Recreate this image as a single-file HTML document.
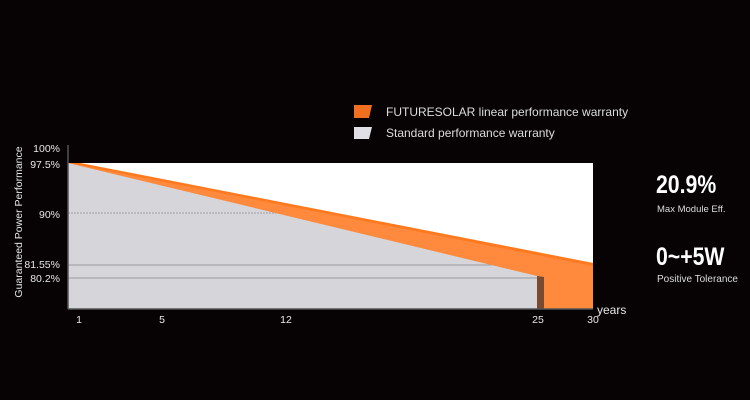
<!DOCTYPE html>
<html><head><style>
body{margin:0;background:#070203;width:750px;height:400px;overflow:hidden;font-family:"Liberation Sans",sans-serif;}
</style></head><body>
<svg width="750" height="400" xmlns="http://www.w3.org/2000/svg" style="position:absolute;left:0;top:0">
<defs><clipPath id="g"><polygon points="68,163 537,276 537,309 68,309"/></clipPath></defs>
<rect x="68" y="163" width="525" height="146" fill="#ffffff"/>
<polygon points="68,163 80,163 593,263 593,309 68,309" fill="#ff8a3d"/>
<polygon points="80,163 593,263 593,266 68,163" fill="#ff7a1f"/>
<polygon points="537,276 544,277 544,309 537,309" fill="#7a4a30"/>
<polygon points="68,163 537,276 537,309 68,309" fill="#d6d5d9"/>
<g clip-path="url(#g)">
<line x1="68" y1="213" x2="537" y2="213" stroke="#a0a0a4" stroke-width="1" stroke-dasharray="2,1"/>
<line x1="68" y1="265" x2="537" y2="265" stroke="#9a9a9e" stroke-width="1"/>
<line x1="68" y1="278" x2="537" y2="278" stroke="#9a9a9e" stroke-width="1"/>
</g>
<line x1="68" y1="309" x2="593" y2="309" stroke="#555" stroke-width="1.5"/>
<line x1="68" y1="145" x2="68" y2="309" stroke="#555" stroke-width="1.5"/>
<g fill="#e8e8e8" font-size="10.5" text-anchor="end">
<text x="60" y="152">100%</text><text x="60" y="168">97.5%</text><text x="60" y="218">90%</text>
<text x="60" y="268">81.55%</text><text x="60" y="282">80.2%</text>
</g>
<g fill="#e8e8e8" font-size="10.5" text-anchor="middle">
<text x="79" y="323">1</text><text x="162" y="323">5</text><text x="286" y="323">12</text>
<text x="538" y="323">25</text><text x="593" y="323">30</text>
</g>
<text x="597" y="314" fill="#e8e8e8" font-size="12">years</text>
<text transform="translate(22,222) rotate(-90)" fill="#e8e8e8" font-size="10.5" text-anchor="middle">Guaranteed Power Performance</text>
<polygon points="354,105 372,105 369,118 354,118" fill="#f07020"/>
<polygon points="354,127 372,127 369,139 354,139" fill="#e0e0e4"/>
<text x="386" y="116" fill="#dddddd" font-size="12">FUTURESOLAR linear performance warranty</text>
<text x="386" y="137" fill="#dddddd" font-size="12">Standard performance warranty</text>
<text x="656" y="193" fill="#fff" font-size="25" font-weight="bold" transform="translate(656,0) scale(0.85,1) translate(-656,0)">20.9%</text>
<text x="657" y="212" fill="#dddddd" font-size="9.5">Max Module Eff.</text>
<text x="656" y="265" fill="#fff" font-size="25" font-weight="bold" transform="translate(656,0) scale(0.85,1) translate(-656,0)">0~+5W</text>
<text x="657" y="282" fill="#dddddd" font-size="10">Positive Tolerance</text>
</svg>
</body></html>
